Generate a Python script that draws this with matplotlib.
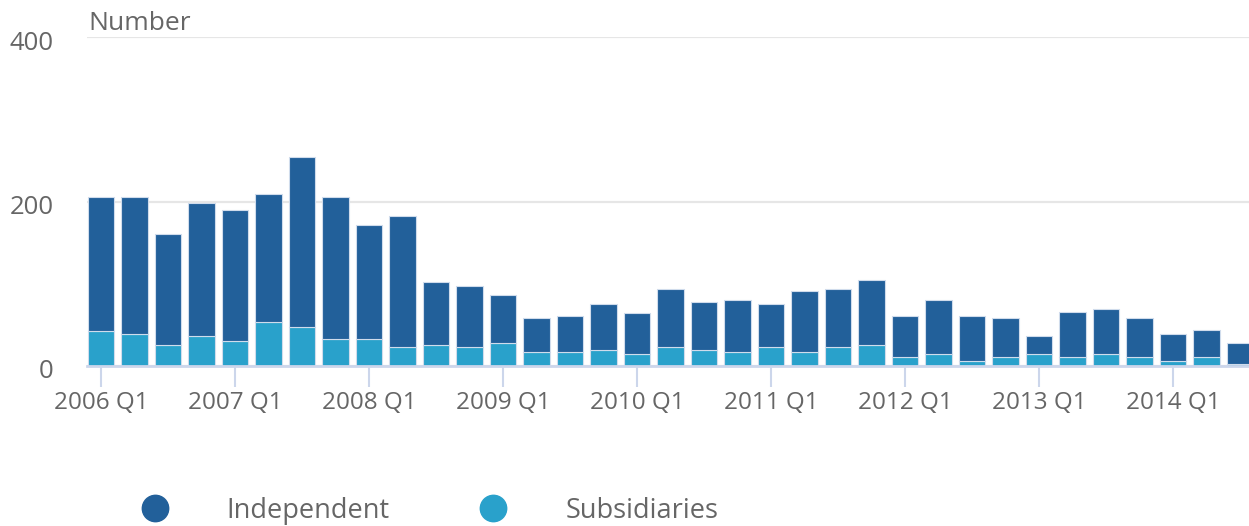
import matplotlib
matplotlib.use("Agg")
import matplotlib.pyplot as plt
from matplotlib.lines import Line2D
from matplotlib.transforms import ScaledTranslation
import numpy as np

plt.rcParams['font.family'] = ['Open Sans', 'DejaVu Sans']

years = list(range(2006, 2015))
quarters = [f"{y} Q{q}" for y in years for q in range(1, 5)][:35]
subsidiaries = [42, 39, 26, 37, 31, 53, 48, 33, 33, 23, 26, 23,
                28, 17, 17, 20, 15, 23, 20, 17, 23, 17, 23, 26,
                11, 15, 6, 11, 15, 11, 15, 11, 6, 11, 3]
independent = [164, 167, 134, 161, 159, 156, 206, 173, 138, 159, 76, 74,
               58, 41, 44, 55, 49, 71, 58, 63, 52, 74, 71, 79,
               50, 65, 55, 47, 21, 55, 54, 47, 33, 33, 25]
tick_labels = [f"{y} Q1" for y in years]

dark = '#22609a'
light = '#29a1cb'
grey_text = '#666666'

W, H = 1249, 526
fig = plt.figure(figsize=(W / 100, H / 100), dpi=100)
ax = fig.add_axes([87 / W, (H - 366) / H, (W - 87) / W + 0.01, (366 - 37) / H])

x = np.arange(len(quarters))
ax.bar(x, subsidiaries, width=0.8, color=light, edgecolor='#d0dcec', linewidth=0.8, zorder=3)
ax.bar(x, independent, bottom=subsidiaries, width=0.8, color=dark, edgecolor='#d0dcec',
       linewidth=0.8, zorder=3)

ax.set_xlim(-0.418, -0.418 + (W - 87) / 33.5 + 0.01 * W / 33.5)
ax.set_ylim(0, 400)

for s in ['top', 'right', 'left']:
    ax.spines[s].set_visible(False)
ax.spines['bottom'].set_color('#ccd6eb')
ax.spines['bottom'].set_linewidth(2)
ax.spines['bottom'].set_zorder(4)

ax.set_yticks([0, 200, 400])
ax.set_yticklabels(['0', '200', '400'])
ax.yaxis.grid(True, color='#e6e6e6', linewidth=1.6, zorder=0)
ax.tick_params(axis='y', length=0, pad=24, labelsize=18.5, labelcolor=grey_text)

q1_pos = [quarters.index(t) for t in tick_labels]
ax.set_xticks(q1_pos)
ax.set_xticklabels(tick_labels)
ax.tick_params(axis='x', length=15, width=1.5, color='#ccd6eb', pad=3,
               labelsize=17.5, labelcolor=grey_text)

for lab in ax.get_yticklabels():
    lab.set_transform(lab.get_transform() + ScaledTranslation(0, -0.03, fig.dpi_scale_trans))

fig.text(88 / W, 1 - 24 / H, 'Number', fontsize=19, color=grey_text, ha='left', va='center')

# legend
for cx, tx, col, name in [(155, 226, dark, 'Independent'), (493, 566, light, 'Subsidiaries')]:
    fig.add_artist(Line2D([cx / W], [1 - 508 / H], marker='o', markersize=19,
                          markerfacecolor=col, markeredgecolor=col, linestyle='none',
                          transform=fig.transFigure))
    fig.text(tx / W, 1 - 511 / H, name, fontsize=19.5, color=grey_text, ha='left', va='center')

fig.savefig('out.png', dpi=100)
